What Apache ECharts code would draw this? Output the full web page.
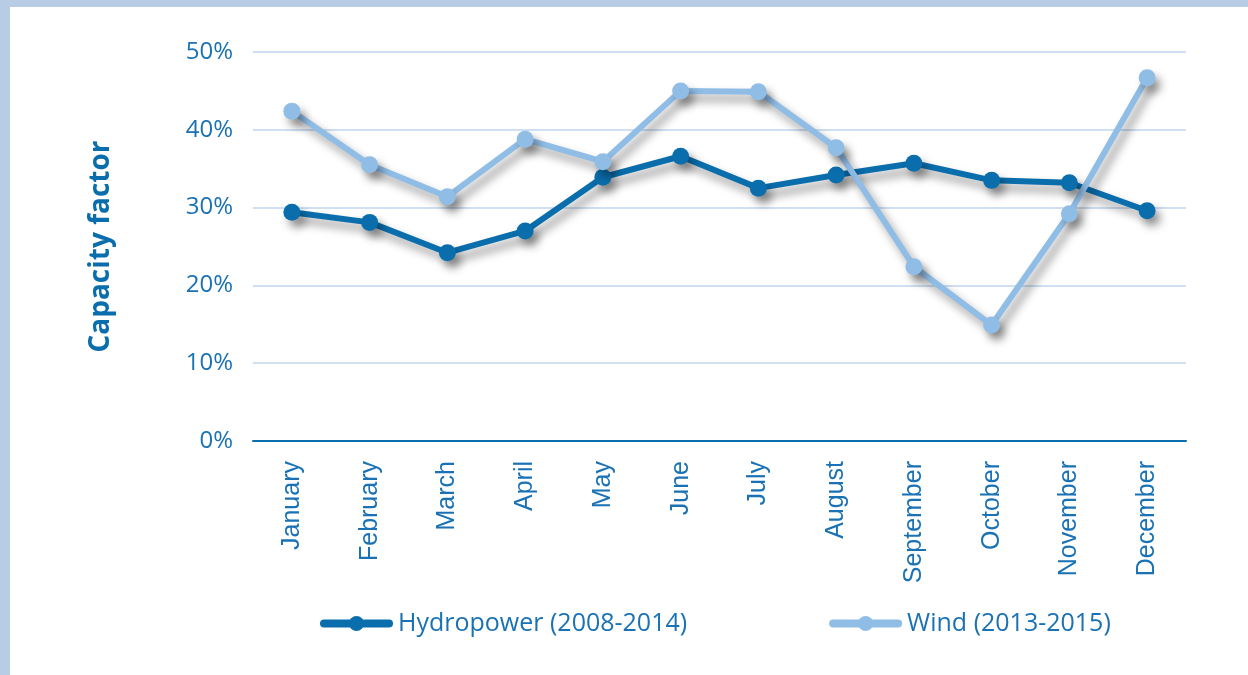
<!DOCTYPE html>
<html>
<head>
<meta charset="utf-8">
<script src="https://cdn.jsdelivr.net/npm/echarts@6/dist/echarts.min.js"></script>
<style>
  html, body { margin: 0; padding: 0; background: #b9cce6; }
  #frame { position: absolute; left: 10px; top: 7px; width: 1238px; height: 668px; background: #fff; }
  #chart { position: absolute; left: -10px; top: -7px; width: 1248px; height: 675px; }
</style>
</head>
<body>
<div id="frame"><div id="chart"></div></div>
<script>
var months = ['January', 'February', 'March', 'April', 'May', 'June', 'July',
  'August', 'September', 'October', 'November', 'December'];
var hydro = [29.4, 28.1, 24.2, 27.0, 33.9, 36.6, 32.5, 34.2, 35.7, 33.5, 33.2, 29.6];
var wind = [42.4, 35.5, 31.4, 38.8, 35.9, 45.0, 44.9, 37.7, 22.4, 14.9, 29.2, 46.7];

var dark = '#0a6ead';
var light = '#90bde6';
var textColor = '#1a72b4';
var shadow = { shadowColor: 'rgba(0,0,0,0.4)', shadowBlur: 10, shadowOffsetX: 5, shadowOffsetY: 7 };
var noShadow = { shadowBlur: 0, shadowOffsetX: 0, shadowOffsetY: 0 };

var chart = echarts.init(document.getElementById('chart'));

function lineSeries(name, data, color) {
  return {
    name: name,
    type: 'line',
    data: data,
    symbol: 'circle',
    symbolSize: 17,
    itemStyle: Object.assign({ color: color }, shadow),
    lineStyle: Object.assign({ width: 6, color: color }, shadow),
    emphasis: { disabled: true }
  };
}

chart.setOption({
  animation: false,
  grid: { left: 253, right: 62, top: 52, bottom: 234 },
  legend: {
    bottom: 34,
    left: 315,
    itemWidth: 65,
    itemHeight: 19,
    itemGap: 142,
    textStyle: { color: textColor, fontSize: 25, fontFamily: 'Open Sans', padding: [0, 0, 0, 4] },
    data: [
      { name: 'Hydropower (2008-2014)', lineStyle: Object.assign({ width: 8, cap: 'round' }, noShadow), itemStyle: noShadow },
      { name: 'Wind (2013-2015)', lineStyle: Object.assign({ width: 8, cap: 'round' }, noShadow), itemStyle: noShadow }
    ]
  },
  xAxis: {
    type: 'category',
    data: months,
    boundaryGap: true,
    axisLine: { lineStyle: { color: dark, width: 2 } },
    axisTick: { show: false },
    axisLabel: {
      rotate: 90, margin: 20, color: textColor, fontSize: 25,
      fontFamily: 'Liberation Sans'
    }
  },
  yAxis: {
    type: 'value',
    min: 0, max: 50, interval: 10,
    name: 'Capacity factor',
    nameLocation: 'middle',
    nameGap: 138,
    nameRotate: 90,
    nameTextStyle: { color: dark, fontSize: 28, fontWeight: 'bold', fontFamily: 'Open Sans' },
    axisLine: { show: false },
    axisTick: { show: false },
    splitLine: { lineStyle: { color: '#cfe0f2', width: 2 } },
    axisLabel: {
      margin: 20, color: textColor, fontSize: 24, fontFamily: 'Open Sans',
      formatter: '{value}%'
    }
  },
  series: [
    lineSeries('Hydropower (2008-2014)', hydro, dark),
    lineSeries('Wind (2013-2015)', wind, light)
  ]
});
</script>
</body>
</html>
